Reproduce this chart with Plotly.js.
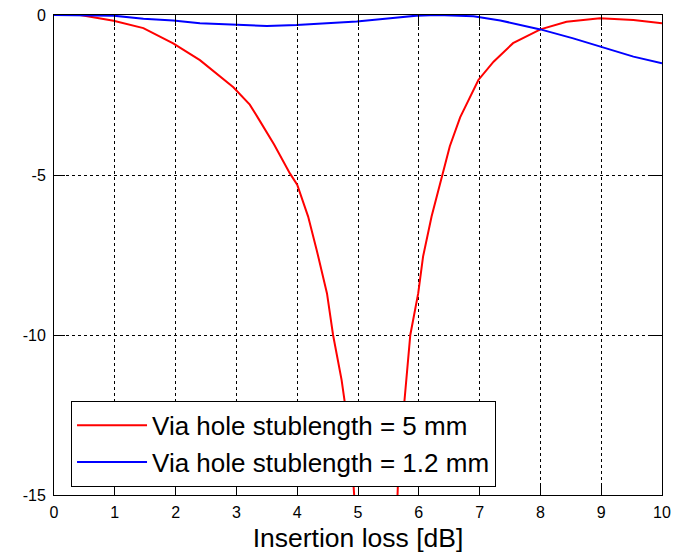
<!DOCTYPE html>
<html>
<head>
<meta charset="utf-8">
<script src="https://cdn.plot.ly/plotly-3.0.1.min.js"></script>
<style>html,body{margin:0;padding:0;background:#fff;}</style>
</head>
<body>
<div id="chart" style="width:679px;height:553px;"></div>
<script>
// Red: via hole stublength = 5 mm
const redX = [0, 0.43, 0.98, 1.47, 1.96, 2.40, 2.95, 3.22, 3.36, 3.62, 3.88, 4.0, 4.18, 4.32, 4.49, 4.59, 4.73, 4.85, 4.92, 4.97, 5.27, 5.62, 5.65, 5.66, 5.72, 5.80, 5.86, 5.99, 6.07, 6.21, 6.38, 6.51, 6.68, 6.98, 7.23, 7.55, 8.0, 8.43, 8.98, 9.53, 10];
const redY = [0, 0, -0.18, -0.41, -0.89, -1.41, -2.26, -2.8, -3.23, -4.05, -4.95, -5.3, -6.3, -7.34, -8.7, -10.0, -11.4, -13.0, -14.5, -16.0, -40, -16.0, -15.0, -14.5, -13.0, -11.4, -10.0, -8.7, -7.55, -6.3, -5.0, -4.1, -3.2, -2.03, -1.46, -0.88, -0.45, -0.21, -0.10, -0.16, -0.26];
// Blue: via hole stublength = 1.2 mm
const blueX = [0, 0.5, 0.98, 1.47, 1.96, 2.40, 2.95, 3.50, 3.99, 4.59, 4.98, 5.53, 5.96, 6.3, 6.90, 7.34, 8.0, 8.54, 8.98, 9.53, 10];
const blueY = [0, 0, -0.02, -0.12, -0.17, -0.26, -0.29, -0.34, -0.31, -0.24, -0.2, -0.1, -0.02, 0, -0.04, -0.17, -0.45, -0.73, -0.99, -1.30, -1.51];
const names = ["Via hole stublength = 5 mm", "Via hole stublength = 1.2 mm"];
const xTicks = [0,1,2,3,4,5,6,7,8,9,10];
const yTicks = [-15,-10,-5,0];
const xTitle = "Insertion loss [dB]";

const font = "Arial, 'Liberation Sans', sans-serif";
const traces = [
  {x: redX, y: redY, name: names[0], mode: "lines", line: {color: "#ff0000", width: 2}},
  {x: blueX, y: blueY, name: names[1], mode: "lines", line: {color: "#0000ff", width: 2}}
];
const axisCommon = {
  showgrid: true, gridcolor: "#000", gridwidth: 1, griddash: "3px,3px",
  showline: true, linecolor: "#000", linewidth: 1, mirror: "ticks",
  ticks: "inside", ticklen: 11, tickcolor: "#000", tickwidth: 1,
  zeroline: false, tickfont: {family: font, size: 16, color: "#000"}
};
const layout = {
  width: 679, height: 553,
  margin: {l: 54, r: 17, t: 15, b: 58},
  paper_bgcolor: "#fff", plot_bgcolor: "#fff",
  font: {family: font, color: "#000"},
  showlegend: true,
  legend: {x: 0.028, y: 0.196, xanchor: "left", yanchor: "top",
           bgcolor: "#fff", bordercolor: "#000", borderwidth: 1,
           itemwidth: 70,
           font: {family: font, size: 26, color: "#000"}},
  xaxis: Object.assign({}, axisCommon, {range: [0, 10], tickvals: xTicks, ticktext: xTicks.map(String),
           title: {text: xTitle, font: {family: font, size: 26.5, color: "#000"}, standoff: 8},
           ticklabelstandoff: 3, automargin: false}),
  yaxis: Object.assign({}, axisCommon, {range: [-15, 0], tickvals: yTicks, ticktext: yTicks.map(String),
           ticklabelstandoff: 4, automargin: false})
};
Plotly.newPlot("chart", traces, layout, {displayModeBar: false, staticPlot: true});
</script>
</body>
</html>
